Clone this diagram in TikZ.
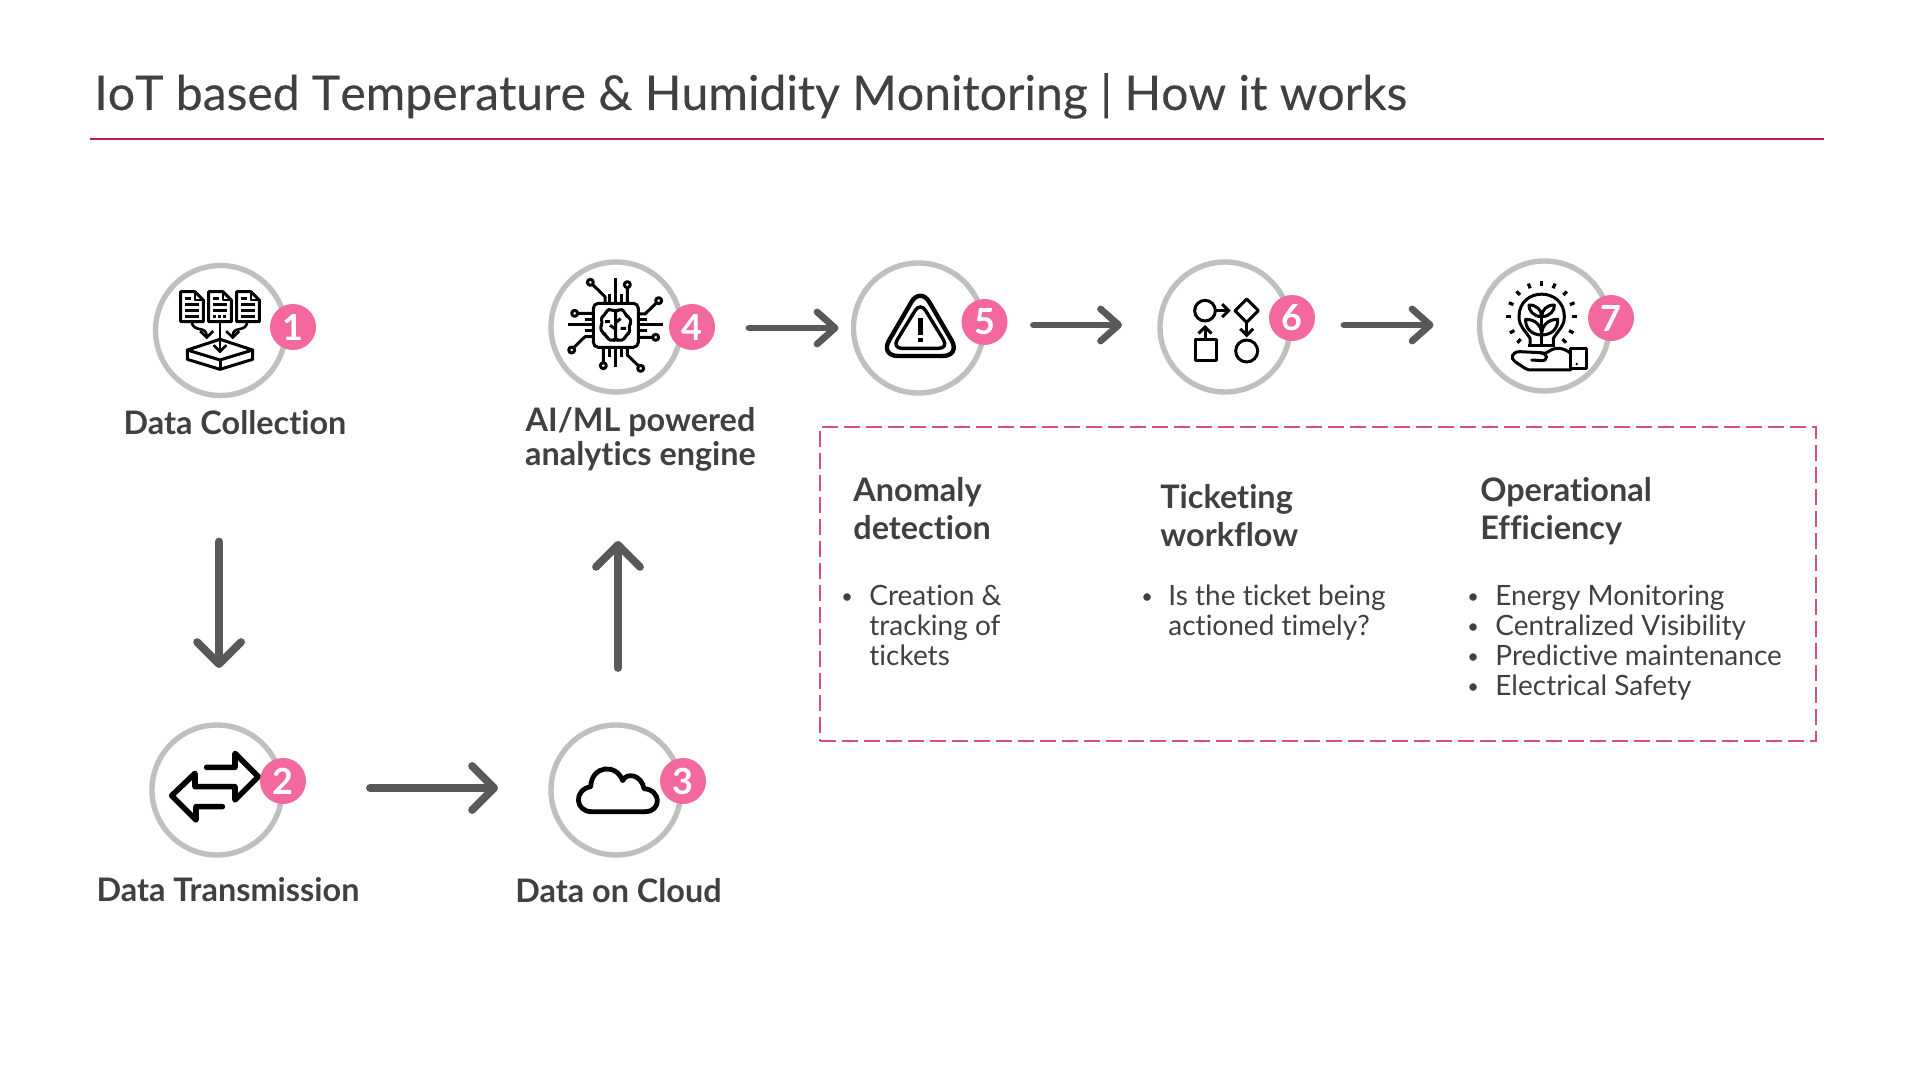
\documentclass[tikz,border=0pt]{standalone}
\usepackage{fontspec}
\setmainfont[Ligatures=NoCommon]{Lato}
\newfontfamily\titlefont[Ligatures=NoCommon,Kerning=Off,FakeBold=0.2]{Lato}
\usetikzlibrary{arrows.meta}
\definecolor{ink}{HTML}{404040}
\definecolor{ringgray}{HTML}{BFBFBF}
\definecolor{flowgray}{HTML}{595959}
\definecolor{badgepink}{HTML}{F3689E}
\definecolor{titleline}{HTML}{C2185B}
\definecolor{dashpink}{HTML}{D94F78}
\tikzset{
  ring/.style={circle,draw=ringgray,line width=2.7pt,fill=white,minimum size=65pt,inner sep=0pt},
  badge/.style={circle,fill=badgepink,text=white,minimum size=23pt,inner sep=0pt,font=\fontsize{18}{18}\selectfont\bfseries},
  flowbig/.style={draw=flowgray,line width=3.9pt,line cap=round,-{Straight Barb[length=11pt,width=22pt,round]}},
  flowsmall/.style={draw=flowgray,line width=3.4pt,line cap=round,-{Straight Barb[length=9pt,width=16pt,round]}},
  iconline/.style={draw=black,line width=1.5pt,line join=round,line cap=butt},
  iconfine/.style={draw=black,line width=1.3pt,line join=round},
  head/.style={anchor=base,inner sep=0pt,text=ink,font=\fontsize{16.2}{18}\selectfont\bfseries},
  headleft/.style={anchor=base west,inner sep=0pt,text=ink,font=\fontsize{16.2}{18}\selectfont\bfseries},
  body/.style={anchor=base west,inner sep=0pt,text=ink,font=\fontsize{14}{15}\selectfont},
  dotmark/.style={anchor=base west,inner sep=0pt,text=ink,font=\fontsize{10}{12}\selectfont},
  tinyarrow/.style={-{Straight Barb[length=3.2pt,width=6.5pt]}}
}
\begin{document}
\begin{tikzpicture}[x=0.5pt,y=-0.5pt]
\useasboundingbox (0,0) rectangle (1920,1080);
% title
\node[anchor=base west,inner sep=0pt,text=ink,font=\titlefont\fontsize{24.03}{28}\selectfont] (title) at (94,110) {IoT based Temperature \& Humidity Monitoring | How it works};
\coordinate (ruleL) at (90,139);
\coordinate (ruleR) at (1824,139);
\draw[titleline,line width=1pt] (ruleL) -- (ruleR);
% dashed box
\node[draw=dashpink,line width=1.2pt,dash pattern=on 8pt off 3pt,minimum width=498pt,minimum height=157pt,inner sep=0pt] (panel) at (1318,584) {};
% rings
\node[ring] (c1) at (220.5,330.5) {};
\node[ring] (c2) at (217,790) {};
\node[ring] (c3) at (616,790) {};
\node[ring] (c4) at (616,327) {};
\node[ring] (c5) at (918.5,328) {};
\node[ring] (c6) at (1225,327) {};
\node[ring] (c7) at (1544.5,326) {};
% connectors
\draw[flowbig,shorten <=105.5pt,shorten >=61pt] ([xshift=-0.7pt]c1.center) -- ([xshift=-0.7pt]c1.center |- c2.center);
\draw[flowbig,shorten <=76.5pt,shorten >=59pt] ([yshift=1pt]c2.center) -- ([yshift=1pt]c2.center -| c3.center);
\draw[flowbig,shorten <=61pt,shorten >=107pt] ([xshift=1pt]c3.center) -- ([xshift=1pt]c4.center);
\draw[flowsmall,shorten <=66.5pt,shorten >=40pt] (c4.center |- c5.center) -- (c5.center);
\draw[flowsmall,shorten <=57.5pt,shorten >=51.5pt] ([yshift=1.5pt]c5.center) -- ([yshift=1.5pt]c5.center -| c6.center);
\draw[flowsmall,shorten <=59.5pt,shorten >=55.5pt] ([yshift=1pt]c6.center) -- ([yshift=1pt]c6.center -| c7.center);
% icon 1
\begin{scope}[shift={(160,270)},scale=1/3]
\foreach \dx in {0,84,168}{
  \draw[iconline] (62+\dx,65) -- (105+\dx,65) -- (130+\dx,90) -- (130+\dx,155) -- (62+\dx,155) -- cycle;
  \draw[iconfine] (105+\dx,65) -- (105+\dx,90) -- (130+\dx,90);
  \draw[iconfine] (76+\dx,85) -- (94+\dx,85) (76+\dx,104) -- (116+\dx,104) (76+\dx,122) -- (116+\dx,122);
}
\draw[iconfine] (76,140) -- (116,140) (244,140) -- (284,140);
\draw[iconfine,dash pattern=on 1.5pt off 1pt] (160,140) -- (200,140);
\draw[iconline] (82,240) -- (180,208) -- (278,240) -- (180,270) -- cycle;
\draw[iconline] (82,240) -- (82,268) -- (180,298) -- (278,268) -- (278,240);
\draw[iconline] (180,270) -- (180,298);
\draw[iconfine,tinyarrow] (180,155) -- (180,250);
\draw[iconfine,tinyarrow] (95,155) .. controls (100,190) and (140,165) .. (140,208);
\draw[iconfine,tinyarrow] (262,155) .. controls (258,190) and (218,165) .. (218,208);
\end{scope}
% icon 2
\begin{scope}[shift={(160,730)},scale=1/3]
\draw[draw=black,line width=2.8pt,line join=round,line cap=round] (140,112) -- (225,112) -- (225,70) -- (295,140) -- (225,210) -- (225,170) -- (105,170) -- (105,130) -- (35,197) -- (108,270) -- (108,230) -- (187,230);
\end{scope}
% icon 3
\begin{scope}[shift={(560,740)},scale=1/3]
\draw[draw=black,line width=2.4pt,line join=round] (95,215) -- (255,215) .. controls (305,215) and (305,150) .. (252,146) .. controls (245,105) and (200,95) .. (188,122) .. controls (170,70) and (95,75) .. (92,140) .. controls (40,150) and (45,215) .. (95,215) -- cycle;
\end{scope}
% icon 4
\begin{scope}[shift={(550,260)},scale=1/3]
\draw[iconline,rounded corners=2.5pt] (130,130) rectangle (265,262);
\draw[iconline] (197,55) -- (197,130) (178,103) -- (178,130) (215,103) -- (215,130);
\draw[iconline] (121,67) circle (9) (128,74) -- (165,110) -- (165,130);
\draw[iconline] (232,74) circle (9) (232,83) -- (232,130);
\draw[iconline] (265,195) -- (340,195) (265,178) -- (290,178) (265,212) -- (290,212);
\draw[iconline] (326,122) circle (9) (318,130) -- (285,162) -- (265,162);
\draw[iconline] (317,232) circle (9) (308,232) -- (265,232);
\draw[iconline] (55,195) -- (130,195) (105,178) -- (130,178) (105,212) -- (130,212);
\draw[iconline] (74,160) circle (9) (83,160) -- (130,160);
\draw[iconline] (65,270) circle (9) (72,262) -- (105,230) -- (130,230);
\draw[iconline] (197,262) -- (197,322) (178,262) -- (178,290) (215,262) -- (215,290);
\draw[iconline] (160,317) circle (9) (160,308) -- (160,262);
\draw[iconline] (272,325) circle (9) (265,317) -- (232,285) -- (232,262);
\draw[iconline,rounded corners=1.5pt] (197,155) -- (183,148) -- (170,150) -- (165,166) -- (152,172) -- (158,190) -- (150,202) -- (158,220) -- (168,224) -- (173,238) -- (190,243) -- (197,235) -- (205,243) -- (224,238) -- (228,224) -- (241,218) -- (236,198) -- (245,186) -- (236,170) -- (226,166) -- (222,150) -- (208,148) -- cycle;
\draw[iconline] (197,155) -- (197,235) (197,188) -- (212,176) (197,208) -- (180,196) (165,185) -- (180,185) (228,205) -- (212,205);
\end{scope}
% icon 5
\begin{scope}[shift={(860,270)},scale=1/3]
\draw[draw=black,line width=2.2pt,rounded corners=9pt] (181,50) -- (60,258) -- (302,258) -- cycle;
\draw[draw=black,line width=1.7pt,rounded corners=5pt] (181,96) -- (96,235) -- (266,235) -- cycle;
\draw[draw=black,line width=2.2pt] (181,144) -- (181,195) (181,204) -- (181,215);
\end{scope}
% icon 6
\begin{scope}[shift={(1170,260)},scale=1/3]
\draw[iconline] (105,152) circle (31);
\draw[iconline,tinyarrow] (136,152) -- (182,152);
\draw[iconline] (230,117) -- (265,152) -- (230,187) -- (195,152) -- cycle;
\draw[iconline,tinyarrow] (230,187) -- (230,232);
\draw[iconline] (230,273) circle (33);
\draw[iconline] (75,240) rectangle (138,302);
\draw[iconline,tinyarrow] (105,240) -- (105,195);
\end{scope}
% icon 7
\begin{scope}[shift={(1480,260)},scale=1/3]
\draw[iconline] (150,252) -- (150,235) .. controls (135,210) and (117,200) .. (117,170) .. controls (117,80) and (253,80) .. (253,170) .. controls (253,200) and (235,210) .. (220,235) -- (220,252);
\draw[iconline] (145,256) -- (225,256);
\foreach \a in {-90,-68,-112,-45,-135,-23,-157,0,180,27,153,47,133}{
  \draw[draw=black,line width=1.6pt] ({185+92*cos(\a)},{170+92*sin(\a)}) -- ({185+107*cos(\a)},{170+107*sin(\a)});
}
\draw[iconline] (185,252) -- (185,150);
\draw[iconline] (185,170) .. controls (160,170) and (145,150) .. (147,135) .. controls (170,135) and (185,150) .. (185,170);
\draw[iconline] (185,170) .. controls (210,170) and (225,150) .. (223,135) .. controls (200,135) and (185,150) .. (185,170);
\draw[iconline] (185,225) .. controls (155,225) and (135,205) .. (137,178) .. controls (165,178) and (185,195) .. (185,225);
\draw[iconline] (185,225) .. controls (215,225) and (235,205) .. (233,178) .. controls (205,178) and (185,195) .. (185,225);
\draw[iconline] (272,265) rectangle (318,325);
\fill[black] (290,312) circle (4);
\draw[iconline,line cap=round] (272,280) .. controls (250,262) and (225,260) .. (205,275) .. controls (195,282) and (190,280) .. (180,278) -- (120,275) .. controls (95,275) and (90,295) .. (105,305) -- (135,325) .. controls (140,330) and (150,330) .. (160,330) -- (272,330);
\draw[iconline,line cap=round] (180,278) .. controls (205,280) and (205,302) .. (185,302) -- (155,300);
\end{scope}
% badges
\node[badge] (b1) at (293,327) {1};
\node[badge] (b2) at (283,781) {2};
\node[badge] (b3) at (683,781) {3};
\node[badge] (b4) at (692,327) {4};
\node[badge] (b5) at (984.5,322) {5};
\node[badge] (b6) at (1292,318) {6};
\node[badge] (b7) at (1611,318) {7};
% labels
\node[head] (l1) at (235,434) {Data Collection};
\node[head] (l4a) at (640.5,431) {AI/ML powered};
\node[head] (l4b) at (640.5,465) {analytics engine};
\node[head] (l2) at (228,901) {Data Transmission};
\node[head] (l3) at (618.5,902) {Data on Cloud};
\node[headleft] (h5a) at (853,501) {Anomaly};
\node[headleft] (h5b) at (853,539) {detection};
\node[headleft] (h6a) at (1160,508) {Ticketing};
\node[headleft] (h6b) at (1160,546) {workflow};
\node[headleft] (h7a) at (1480,501) {Operational};
\node[headleft] (h7b) at (1480,539) {Efficiency};
% bullets
\node[dotmark] (d5) at (841,603) {•};
\node[body] (t5a) at (869,605) {Creation \&};
\node[body] (t5b) at (869,635) {tracking of};
\node[body] (t5c) at (869,665) {tickets};
\node[dotmark] (d6) at (1141,603) {•};
\node[body] (t6a) at (1168,605) {Is the ticket being};
\node[body] (t6b) at (1168,635) {actioned timely?};
\node[dotmark] (d7a) at (1467,603) {•};
\node[dotmark] (d7b) at (1467,633) {•};
\node[dotmark] (d7c) at (1467,663) {•};
\node[dotmark] (d7d) at (1467,693) {•};
\node[body] (t7a) at (1495,605) {Energy Monitoring};
\node[body] (t7b) at (1495,635) {Centralized Visibility};
\node[body] (t7c) at (1495,665) {Predictive maintenance};
\node[body] (t7d) at (1495,695) {Electrical Safety};
\end{tikzpicture}
\end{document}
